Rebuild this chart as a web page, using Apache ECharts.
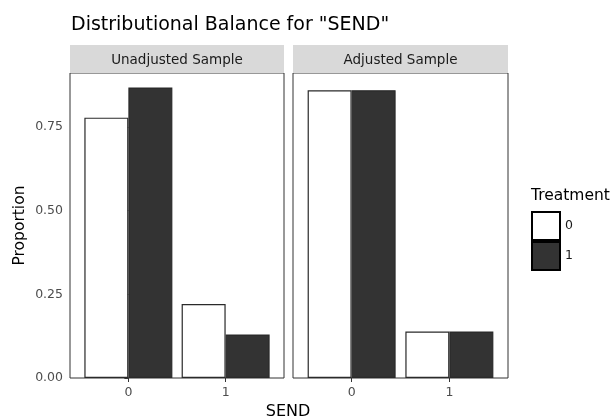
<!DOCTYPE html>
<html><head><meta charset="utf-8">
<script src="https://cdn.jsdelivr.net/npm/echarts@6/dist/echarts.min.js"></script>
<style>html,body{margin:0;padding:0;background:#fff}#c{width:615px;height:420px}</style>
</head><body><div id="c"></div>
<script>
const categories = [0, 1];
const panels = ['Unadjusted Sample', 'Adjusted Sample'];
const treatments = ['0', '1'];
const unadjT0 = [0.778, 0.221];
const unadjT1 = [0.868, 0.130];
const adjT0 = [0.860, 0.139];
const adjT1 = [0.860, 0.139];
const yTicks = [0, 0.25, 0.5, 0.75];
const FONT = '"DejaVu Sans", "Liberation Sans", Arial, sans-serif';
const yMax = 0.868 * 1.05;

const chart = echarts.init(document.getElementById('c'), null, {renderer: 'canvas'});
const grids = [
  {left: 70, top: 73, width: 214, height: 305},
  {left: 293, top: 73, width: 215, height: 305}
];
const fills = ['#FFFFFF', '#333333'];
const panelData = [[unadjT0, unadjT1], [adjT0, adjT1]];
const series = [];
panelData.forEach((pd, gi) => {
  pd.forEach((vals, ti) => {
    series.push({
      type: 'bar', name: treatments[ti], xAxisIndex: gi, yAxisIndex: gi,
      barWidth: 44, barGap: '0%',
      data: categories.map((c, i) => [c, vals[i]]),
      itemStyle: {color: fills[ti], borderColor: '#2A2A2A', borderWidth: 1.2},
      emphasis: {disabled: true}, animation: false
    });
  });
});
const xAxes = grids.map((g, i) => ({
  type: 'value', gridIndex: i, min: -0.6, max: 1.6,
  axisLine: {show: false},
  axisTick: {show: true, length: 4, customValues: categories, lineStyle: {color: '#333'}},
  axisLabel: {customValues: categories, color: '#4D4D4D', fontSize: 12.5, fontFamily: FONT, margin: 8},
  splitLine: {show: false}
}));
const yAxes = grids.map((g, i) => ({
  type: 'value', gridIndex: i, min: 0, max: yMax,
  axisLine: {show: false},
  axisTick: {show: i === 0, length: 4, customValues: yTicks, lineStyle: {color: '#333'}},
  axisLabel: {show: i === 0, customValues: yTicks, color: '#4D4D4D', fontSize: 12.5, fontFamily: FONT, margin: 7,
    formatter: v => v.toFixed(2)},
  splitLine: {show: false},
  name: i === 0 ? 'Proportion' : '', nameLocation: 'middle', nameGap: 42, nameRotate: 90,
  nameTextStyle: {color: '#000', fontSize: 15.5, fontFamily: FONT}
}));
const graphic = [];
grids.forEach((g, i) => {
  graphic.push({type: 'rect', left: g.left, top: 45, shape: {width: g.width, height: 28},
    style: {fill: '#D9D9D9'}, silent: true});
  graphic.push({type: 'text', x: g.left + g.width / 2, y: 60,
    style: {text: panels[i], fill: '#1A1A1A', font: '13.5px ' + FONT, align: 'center', verticalAlign: 'middle'}});
});
graphic.push({type: 'text', x: 288, y: 412, style: {text: 'SEND', fill: '#000', font: '16px ' + FONT, align: 'center', verticalAlign: 'middle'}});
graphic.push({type: 'text', x: 531, y: 196, style: {text: 'Treatment', fill: '#000', font: '15.5px ' + FONT, align: 'left', verticalAlign: 'middle'}});
graphic.push({type: 'text', x: 71, y: 25, style: {text: 'Distributional Balance for "SEND"', fill: '#000', font: '19px ' + FONT, align: 'left', verticalAlign: 'middle'}});

chart.setOption({
  animation: false,
  backgroundColor: '#fff',
  grid: grids.map(g => Object.assign({show: true, borderColor: '#333333', borderWidth: 1, backgroundColor: '#fff'}, g)),
  xAxis: xAxes, yAxis: yAxes, series: series,
  legend: {orient: 'vertical', left: 531, top: 211, padding: 0, itemGap: 0, itemWidth: 28, itemHeight: 28,
    icon: 'rect', selectedMode: false,
    data: treatments.map((t, i) => ({name: t, itemStyle: {color: fills[i], borderColor: '#000', borderWidth: 2}})),
    textStyle: {color: '#1A1A1A', fontSize: 12.5, fontFamily: FONT}},
  graphic: graphic
});
</script></body></html>
